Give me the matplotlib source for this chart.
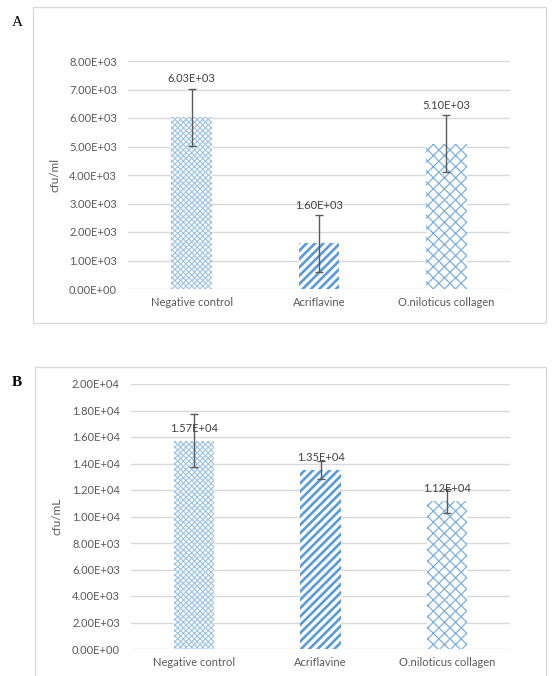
import numpy as np
import matplotlib.pyplot as plt
from matplotlib.patches import Rectangle

plt.rcParams['font.family'] = ['Lato', 'DejaVu Sans']

groups = ['Negative control', 'Acriflavine', 'O.niloticus collagen']
labels_a = ['6.03E+03', '1.60E+03', '5.10E+03']
values_a = [6030, 1600, 5100]
err_a = [1000, 1000, 1000]
labels_b = ['1.57E+04', '1.35E+04', '1.12E+04']
values_b = [15700, 13500, 11200]
err_b = [2000, 700, 900]

hatches = ['xxxxxx', '////', 'xxx']
hwidths = [0.8, 1.9, 0.9]
hcolors = ['#9CC2E6', '#5B9BD5', '#7FB0DE']
grey = '#595959'

W, H = 554, 676
fig = plt.figure(figsize=(W / 100, H / 100), dpi=100)

# panel frames
fig.patches.append(Rectangle((33 / W, 1 - 323 / H), 513 / W, 316 / H, transform=fig.transFigure,
                             fill=False, ec='#D9D9D9', lw=1))
fig.patches.append(Rectangle((35 / W, -0.01), 511 / W, 1 - 367 / H + 0.01, transform=fig.transFigure,
                             fill=False, ec='#D9D9D9', lw=1))
fig.text(12 / W, 1 - 22 / H, 'A', family='Liberation Serif', fontsize=11, va='center')
fig.text(12 / W, 1 - 383 / H, 'B', family='Liberation Serif', fontsize=11, weight='bold', va='center')


def panel(rect, vals, errs, labs, ymax, ystep, ylabel, lab_on_err):
    ax = fig.add_axes(rect)
    x = np.arange(len(groups))
    for i in range(len(groups)):
        with plt.rc_context({'hatch.linewidth': hwidths[i]}):
            ax.bar(x[i], vals[i], width=0.32, color='white', edgecolor=hcolors[i],
                   hatch=hatches[i], lw=0, zorder=2)
    ax.errorbar(x, vals, yerr=errs, fmt='none', ecolor=grey, elinewidth=1,
                capsize=3, capthick=1, zorder=3)
    for i in range(len(groups)):
        y = vals[i] + errs[i] if lab_on_err else vals[i]
        off = 3 if lab_on_err else 5
        ax.annotate(labs[i], (x[i], y), xytext=(0, off), textcoords='offset points',
                    ha='center', va='bottom', fontsize=8, color='#404040', zorder=4)
    ax.set_xlim(-0.5, 2.5)
    ax.set_ylim(0, ymax)
    ticks = np.arange(0, ymax + 1, ystep)
    ax.set_yticks(ticks)
    ax.set_yticklabels(['%.2E' % t for t in ticks])
    ax.set_xticks(x)
    ax.set_xticklabels(groups)
    ax.tick_params(length=0, labelsize=8, labelcolor=grey, pad=8)
    ax.tick_params(axis='x', pad=6)
    ax.grid(axis='y', color='#D9D9D9', lw=1, zorder=0)
    ax.set_axisbelow(True)
    for s in ax.spines.values():
        s.set_visible(False)
    ax.set_ylabel(ylabel, fontsize=8.5, color=grey)
    return ax


axA = panel([128 / W, 1 - 289 / H, 382 / W, 228 / H], values_a, err_a, labels_a,
            8000, 1000, 'cfu/ml', True)
axA.yaxis.set_label_coords(-0.178, 0.5)
axB = panel([131 / W, 1 - 649 / H, 379 / W, 265 / H], values_b, err_b, labels_b,
            20000, 2000, 'cfu/mL', False)
axB.yaxis.set_label_coords(-0.18, 0.5)

plt.savefig('out.png', dpi=100)
